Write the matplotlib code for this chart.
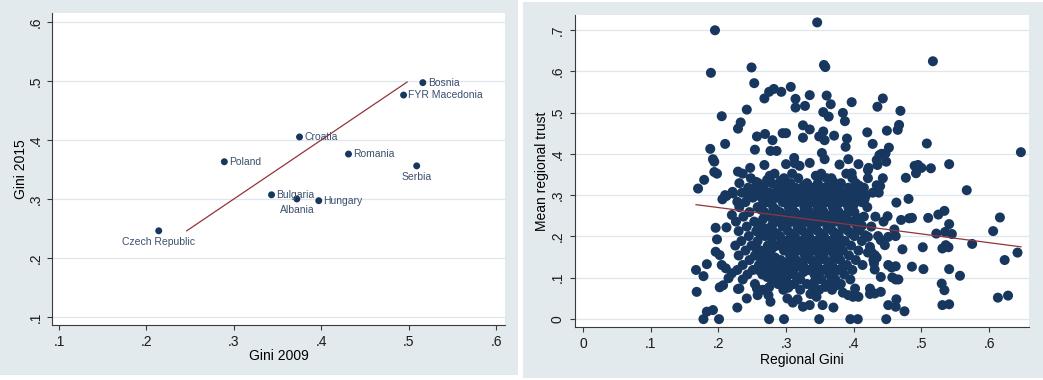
import matplotlib.pyplot as plt
import numpy as np
from matplotlib.patches import Rectangle

plt.rcParams['font.family'] = ['Liberation Sans', 'DejaVu Sans']

# ---- left panel: country Gini 2009 vs 2015
countries = ["Czech Republic", "Poland", "Croatia", "Romania", "Serbia",
             "Bosnia", "FYR Macedonia", "Bulgaria", "Albania", "Hungary"]
gini_2009 = [0.214, 0.289, 0.375, 0.431, 0.509, 0.516, 0.494, 0.343, 0.372, 0.397]
gini_2015 = [0.246, 0.363, 0.405, 0.376, 0.356, 0.497, 0.476, 0.307, 0.300, 0.297]
label_side = ["below", "right", "right", "right", "below",
              "right", "right", "right", "below", "right"]
diag_x = [0.246, 0.498]   # 45-degree reference line
diag_y = diag_x

# ---- right panel: regional Gini vs mean regional trust
# points that can be read one by one
reg_pts = [
    (0.195, 0.699), (0.346, 0.718), (0.189, 0.596), (0.249, 0.609), (0.356, 0.615),
    (0.358, 0.610), (0.517, 0.624), (0.253, 0.571),
    (0.268, 0.534), (0.275, 0.550), (0.282, 0.557), (0.293, 0.550), (0.307, 0.562),
    (0.314, 0.533), (0.314, 0.512), (0.328, 0.516), (0.335, 0.542), (0.360, 0.541),
    (0.366, 0.520), (0.355, 0.501), (0.363, 0.490), (0.397, 0.525), (0.384, 0.499),
    (0.387, 0.479), (0.205, 0.491), (0.242, 0.507), (0.233, 0.476), (0.229, 0.461),
    (0.435, 0.514), (0.443, 0.534), (0.469, 0.504), (0.467, 0.470), (0.465, 0.458),
    (0.449, 0.456), (0.420, 0.452),
    (0.210, 0.424), (0.188, 0.412), (0.257, 0.442), (0.269, 0.448), (0.254, 0.410),
    (0.280, 0.433), (0.277, 0.407), (0.286, 0.407), (0.295, 0.450), (0.300, 0.450),
    (0.325, 0.469), (0.335, 0.459), (0.325, 0.439), (0.349, 0.442), (0.355, 0.454),
    (0.357, 0.433), (0.371, 0.444), (0.390, 0.437), (0.388, 0.417), (0.353, 0.402),
    (0.428, 0.424), (0.452, 0.415), (0.508, 0.425), (0.647, 0.404),
    (0.192, 0.387), (0.194, 0.381), (0.357, 0.387), (0.392, 0.387), (0.379, 0.374),
    (0.407, 0.375), (0.312, 0.390), (0.313, 0.377), (0.320, 0.371), (0.335, 0.378),
    (0.300, 0.375), (0.268, 0.373), (0.247, 0.366), (0.229, 0.357), (0.194, 0.356),
    (0.198, 0.352), (0.422, 0.366), (0.434, 0.385), (0.438, 0.397), (0.441, 0.400),
    (0.447, 0.401), (0.448, 0.381), (0.435, 0.373), (0.397, 0.353), (0.350, 0.347),
    (0.367, 0.341), (0.490, 0.371), (0.495, 0.373), (0.500, 0.366), (0.492, 0.353),
    (0.514, 0.365), (0.541, 0.375),
    (0.370, 0.332), (0.443, 0.341), (0.434, 0.324), (0.477, 0.342), (0.567, 0.312),
    (0.439, 0.322), (0.437, 0.306), (0.404, 0.308), (0.417, 0.298), (0.404, 0.290),
    (0.416, 0.290), (0.463, 0.282), (0.481, 0.291),
    (0.170, 0.316), (0.179, 0.337), (0.206, 0.290), (0.212, 0.298), (0.221, 0.308),
    (0.228, 0.284), (0.244, 0.298), (0.256, 0.332), (0.257, 0.304), (0.272, 0.337),
    (0.220, 0.252), (0.196, 0.221), (0.212, 0.222), (0.198, 0.193), (0.196, 0.163),
    (0.183, 0.133), (0.167, 0.119), (0.178, 0.104), (0.168, 0.066), (0.202, 0.077),
    (0.207, 0.082), (0.215, 0.099), (0.220, 0.111), (0.231, 0.074), (0.228, 0.028),
    (0.242, 0.050), (0.183, 0.018), (0.192, 0.022), (0.178, 0.000), (0.201, 0.000),
    (0.202, 0.155), (0.205, 0.131), (0.211, 0.123), (0.229, 0.073), (0.210, 0.300),
    (0.222, 0.304),
    (0.257, 0.074), (0.258, 0.058), (0.275, 0.077), (0.274, 0.058), (0.277, 0.042),
    (0.259, 0.119), (0.265, 0.112), (0.270, 0.111), (0.291, 0.099), (0.290, 0.086),
    (0.303, 0.076), (0.317, 0.048), (0.325, 0.030), (0.340, 0.074), (0.336, 0.061),
    (0.345, 0.054), (0.354, 0.034), (0.370, 0.028), (0.302, 0.050), (0.310, 0.040),
    (0.335, 0.034),
    (0.275, 0.000), (0.297, 0.000), (0.349, 0.000), (0.395, 0.000), (0.406, 0.000),
    (0.448, 0.000),
    (0.375, 0.082), (0.384, 0.064), (0.392, 0.058), (0.399, 0.054), (0.402, 0.074),
    (0.407, 0.054), (0.424, 0.074), (0.424, 0.061), (0.431, 0.062), (0.440, 0.066),
    (0.463, 0.048), (0.451, 0.034), (0.462, 0.030), (0.475, 0.019),
    (0.421, 0.361), (0.450, 0.249), (0.444, 0.236), (0.409, 0.244), (0.404, 0.232),
    (0.412, 0.226), (0.470, 0.240), (0.482, 0.244), (0.486, 0.245), (0.460, 0.217),
    (0.462, 0.201), (0.451, 0.199), (0.408, 0.215), (0.417, 0.203), (0.421, 0.199),
    (0.440, 0.191), (0.446, 0.179), (0.424, 0.175), (0.426, 0.163), (0.421, 0.161),
    (0.431, 0.155), (0.434, 0.149), (0.429, 0.143), (0.430, 0.135), (0.431, 0.120),
    (0.472, 0.169), (0.510, 0.245), (0.525, 0.253), (0.534, 0.262), (0.541, 0.230),
    (0.522, 0.207), (0.535, 0.211), (0.545, 0.206), (0.502, 0.174), (0.531, 0.171),
    (0.536, 0.179), (0.540, 0.174), (0.575, 0.182), (0.606, 0.213), (0.616, 0.246),
    (0.623, 0.143), (0.642, 0.161), (0.451, 0.131), (0.456, 0.125), (0.462, 0.128),
    (0.486, 0.127), (0.503, 0.121), (0.541, 0.121), (0.557, 0.105), (0.440, 0.102),
    (0.457, 0.101), (0.462, 0.096), (0.466, 0.096), (0.530, 0.086), (0.534, 0.070),
    (0.531, 0.034), (0.541, 0.036), (0.613, 0.052), (0.628, 0.057),
]

# dense middle of the cloud, estimated row by row (trust level, Gini values)
core_rows = [
    (0.352, [0.236, 0.283, 0.309, 0.352, 0.389]),
    (0.347, [0.276, 0.344]),
    (0.341, [0.248, 0.297, 0.318, 0.360, 0.398, 0.421]),
    (0.335, [0.292, 0.364]),
    (0.329, [0.231, 0.259, 0.279, 0.306, 0.331, 0.347, 0.381, 0.403]),
    (0.323, [0.256, 0.302, 0.326, 0.366, 0.408]),
    (0.318, [0.244, 0.267, 0.290, 0.314, 0.338, 0.357, 0.373, 0.392, 0.415]),
    (0.312, [0.252, 0.287, 0.309, 0.330, 0.352, 0.378, 0.400]),
    (0.306, [0.235, 0.276, 0.299, 0.322, 0.344, 0.366, 0.384, 0.409, 0.428]),
    (0.300, [0.270, 0.293, 0.315, 0.337, 0.358, 0.388, 0.418]),
    (0.294, [0.251, 0.264, 0.287, 0.309, 0.331, 0.352, 0.376, 0.398]),
    (0.289, [0.280, 0.302, 0.324, 0.346, 0.368, 0.392]),
    (0.283, [0.240, 0.272, 0.295, 0.316, 0.339, 0.361, 0.386, 0.412]),
    (0.277, [0.265, 0.310, 0.333, 0.354, 0.376, 0.400]),
    (0.271, [0.231, 0.258, 0.281, 0.304, 0.327, 0.347, 0.369, 0.392, 0.420]),
    (0.265, [0.263, 0.285, 0.308, 0.330, 0.352, 0.373, 0.396]),
    (0.259, [0.246, 0.268, 0.291, 0.313, 0.335, 0.356, 0.378, 0.401]),
    (0.254, [0.280, 0.302, 0.324, 0.345, 0.369, 0.390]),
    (0.248, [0.237, 0.277, 0.299, 0.321, 0.343, 0.364, 0.388, 0.415, 0.432]),
    (0.242, [0.266, 0.292, 0.314, 0.336, 0.357, 0.380, 0.404]),
    (0.236, [0.226, 0.253, 0.286, 0.308, 0.330, 0.351, 0.373, 0.396]),
    (0.230, [0.258, 0.280, 0.302, 0.324, 0.345, 0.366, 0.388]),
    (0.224, [0.242, 0.264, 0.295, 0.317, 0.338, 0.361, 0.383, 0.405, 0.426]),
    (0.219, [0.272, 0.320, 0.342, 0.365, 0.386]),
    (0.213, [0.230, 0.256, 0.281, 0.303, 0.325, 0.347, 0.369, 0.392]),
    (0.207, [0.262, 0.286, 0.308, 0.330, 0.352, 0.374, 0.396]),
    (0.201, [0.245, 0.269, 0.291, 0.313, 0.334, 0.356, 0.378, 0.401, 0.436]),
    (0.195, [0.279, 0.306, 0.328, 0.350, 0.371]),
    (0.189, [0.234, 0.258, 0.300, 0.322, 0.343, 0.365, 0.387, 0.412]),
    (0.184, [0.292, 0.316, 0.337, 0.358, 0.380]),
    (0.178, [0.225, 0.249, 0.273, 0.287, 0.310, 0.331, 0.353, 0.374, 0.396]),
    (0.172, [0.256, 0.280, 0.303, 0.325, 0.346, 0.368]),
    (0.166, [0.240, 0.263, 0.297, 0.319, 0.340, 0.362, 0.384, 0.407]),
    (0.160, [0.270, 0.312, 0.334, 0.356, 0.378]),
    (0.154, [0.230, 0.254, 0.278, 0.306, 0.328, 0.349, 0.371, 0.393]),
    (0.149, [0.262, 0.284, 0.310, 0.331, 0.354, 0.375]),
    (0.143, [0.246, 0.270, 0.292, 0.315, 0.337, 0.358, 0.380, 0.403]),
    (0.137, [0.276, 0.298, 0.320, 0.341, 0.363]),
    (0.131, [0.236, 0.260, 0.283, 0.304, 0.325, 0.346, 0.368, 0.390, 0.413]),
    (0.125, [0.268, 0.289, 0.314, 0.340, 0.362, 0.384]),
    (0.119, [0.228, 0.251, 0.275, 0.296, 0.333, 0.355, 0.377, 0.398]),
    (0.114, [0.280, 0.302, 0.326, 0.349, 0.371]),
    (0.108, [0.243, 0.265, 0.287, 0.311, 0.342, 0.364, 0.386]),
    (0.102, [0.272, 0.294, 0.316, 0.368]),
    (0.096, [0.236, 0.278, 0.300, 0.321, 0.352, 0.373, 0.395]),
    (0.090, [0.294, 0.342]),
    (0.085, [0.254, 0.288, 0.312, 0.331, 0.362, 0.381]),
    (0.078, [0.304, 0.358]),
    (0.071, [0.266, 0.296, 0.321, 0.349, 0.368]),
]

fit_slope = -0.2125
fit_intercept = 0.3125

reg_gini = [p[0] for p in reg_pts]
reg_trust = [p[1] for p in reg_pts]
for yy, xs in core_rows:
    reg_gini += xs
    reg_trust += [yy] * len(xs)
reg_gini = np.array(reg_gini)
reg_trust = np.array(reg_trust)

navy = '#17375e'
maroon = '#90353b'
bg = '#e3eaee'
grid_c = '#dfe7ed'
lab_c = '#3b4f6d'

fig = plt.figure(figsize=(10.43, 3.80), dpi=100)
fig.patch.set_facecolor('white')
fig.patches.append(Rectangle((0, 0.0132), 0.4966, 0.9868, transform=fig.transFigure,
                             facecolor=bg, edgecolor='none', zorder=-10))
fig.patches.append(Rectangle((0.5014, 0.0053), 0.4986, 0.9895, transform=fig.transFigure,
                             facecolor=bg, edgecolor='none', zorder=-10))

def style_axes(ax, ypad, xpad):
    ax.set_facecolor('white')
    for s in ['top', 'right']:
        ax.spines[s].set_visible(False)
    for s in ['left', 'bottom']:
        ax.spines[s].set_color('#3a3a3a')
        ax.spines[s].set_linewidth(0.8)
    ax.tick_params(axis='both', direction='out', length=3.5, width=0.8,
                   color='#3a3a3a', labelsize=10, labelcolor='#1a1a1a')
    ax.tick_params(axis='y', pad=ypad)
    ax.tick_params(axis='x', pad=xpad)
    for lab in ax.get_yticklabels():
        lab.set_rotation(90)
        lab.set_va('center')
    ax.yaxis.grid(True, color=grid_c, linewidth=0.9)
    ax.set_axisbelow(True)

def stata_fmt(v):
    s = ('%.1f' % v)
    return '0' if s == '0.0' else s.lstrip('0')

# left panel
ax1 = fig.add_axes([0.0499, 0.1447, 0.4343, 0.8211])
ax1.set_xlim(0.092, 0.610)
ax1.set_ylim(0.0864, 0.615)
xt1 = [0.1, 0.2, 0.3, 0.4, 0.5, 0.6]
yt1 = [0.1, 0.2, 0.3, 0.4, 0.5, 0.6]
ax1.set_xticks(xt1, [stata_fmt(v) for v in xt1])
ax1.set_yticks(yt1, [stata_fmt(v) for v in yt1])
style_axes(ax1, 3, 4)
ax1.plot(diag_x, diag_y, color=maroon, linewidth=0.9, zorder=2)
ax1.scatter(gini_2009, gini_2015, s=25, color=navy, edgecolors='none', zorder=3)
for name, x, y, side in zip(countries, gini_2009, gini_2015, label_side):
    if side == 'right':
        ax1.annotate(name, (x, y), xytext=(3.5, 0), textcoords='offset points',
                     ha='left', va='center', fontsize=7.5, color=lab_c)
    else:
        ax1.annotate(name, (x, y), xytext=(0, -8), textcoords='offset points',
                     ha='center', va='center', fontsize=7.5, color=lab_c)
ax1.set_xlabel('Gini 2009', fontsize=10, labelpad=0)
ax1.set_ylabel('Gini 2015', fontsize=10, labelpad=1)

# right panel
ax2 = fig.add_axes([0.5513, 0.1395, 0.4353, 0.8211])
ax2.set_xlim(-0.0118, 0.659)
ax2.set_ylim(-0.019, 0.736)
xt2 = [0, 0.1, 0.2, 0.3, 0.4, 0.5, 0.6]
yt2 = [0, 0.1, 0.2, 0.3, 0.4, 0.5, 0.6, 0.7]
ax2.set_xticks(xt2, [stata_fmt(v) for v in xt2])
ax2.set_yticks(yt2, [stata_fmt(v) for v in yt2])
style_axes(ax2, 4, 4)
ax2.scatter(reg_gini, reg_trust, s=52, color=navy, edgecolors='none', zorder=3)
fx = np.array([reg_gini.min(), reg_gini.max()])
ax2.plot(fx, fit_intercept + fit_slope * fx, color=maroon, linewidth=0.9, zorder=4)
ax2.set_xlabel('Regional Gini', fontsize=10, labelpad=1)
ax2.set_ylabel('Mean regional trust', fontsize=10, labelpad=1)

fig.savefig('out.png', dpi=100)
